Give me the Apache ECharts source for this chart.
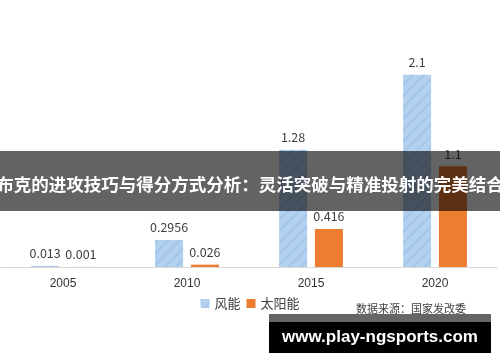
<!DOCTYPE html>
<html><head><meta charset="utf-8">
<script src="https://cdn.jsdelivr.net/npm/echarts@6/dist/echarts.min.js"></script>
<style>html,body{margin:0;padding:0;background:#fff}#c{width:500px;height:362px}</style>
</head><body><div id="c"></div>
<script>
const categories = ['2005', '2010', '2015', '2020'];
const windValues = [0.013, 0.2956, 1.28, 2.1];
const solarValues = [0.001, 0.026, 0.416, 1.1];
const seriesNames = ['风能', '太阳能'];
const sourceText = '数据来源：国家发改委';
const bannerText = '布克的进攻技巧与得分方式分析：灵活突破与精准投射的完美结合';
const watermarkText = 'www.play-ngsports.com';

const font = '"Noto Sans CJK SC", "Noto Sans", sans-serif';
const chart = echarts.init(document.getElementById('c'), null, {renderer: 'canvas'});
chart.setOption({
  animation: false,
  textStyle: {fontFamily: font},
  grid: {left: 1, right: 3, top: 38, bottom: 95},
  legend: {
    data: seriesNames, top: 292, left: 'center', icon: 'rect', itemWidth: 9, itemHeight: 9, itemGap: 6,
    textStyle: {fontSize: 13, color: '#404040', fontFamily: font}
  },
  xAxis: {
    type: 'category', data: categories,
    axisLine: {lineStyle: {color: '#d9d9d9'}},
    axisTick: {show: false},
    axisLabel: {color: '#333', fontSize: 12, margin: 11, fontFamily: 'Liberation Sans, Arial, sans-serif'}
  },
  yAxis: {type: 'value', min: 0, max: 2.5, show: false, splitLine: {show: false}},
  series: [
    {
      name: seriesNames[0], type: 'bar', data: windValues, barWidth: 28, barGap: '28%',
      itemStyle: {
        color: '#b4d0ef',
        decal: {symbol: 'rect', color: 'rgba(140,180,228,0.4)', dashArrayX: [1, 0], dashArrayY: [2, 6], rotation: -Math.PI / 4}
      },
      label: {show: true, position: 'top', distance: 6, color: '#404040', fontSize: 12.5}
    },
    {
      name: seriesNames[1], type: 'bar', data: solarValues, barWidth: 28,
      itemStyle: {color: '#ed7d31'},
      label: {show: true, position: 'top', distance: 6, color: '#404040', fontSize: 12.5}
    }
  ],
  graphic: [
    {type: 'text', left: 356, top: 303, z: 50, style: {text: sourceText, fill: '#404040', font: '11px ' + font}},
    {type: 'rect', z: 100, shape: {x: 0, y: 151, width: 500, height: 60}, style: {fill: 'rgba(0,0,0,0.61)'}},
    {type: 'text', z: 101, x: 250, y: 184, style: {text: bannerText, fill: '#fff', font: 'bold 17.5px ' + font, textAlign: 'center', textVerticalAlign: 'middle'}},
    {type: 'rect', z: 100, shape: {x: 269, y: 314, width: 222, height: 8}, style: {fill: '#666'}},
    {type: 'rect', z: 100, shape: {x: 269, y: 322, width: 222, height: 31}, style: {fill: '#000'}},
    {type: 'text', z: 101, x: 380, y: 337, style: {text: watermarkText, fill: '#fff', font: 'bold 17px "Liberation Sans", sans-serif', textAlign: 'center', textVerticalAlign: 'middle'}}
  ]
});
</script></body></html>
